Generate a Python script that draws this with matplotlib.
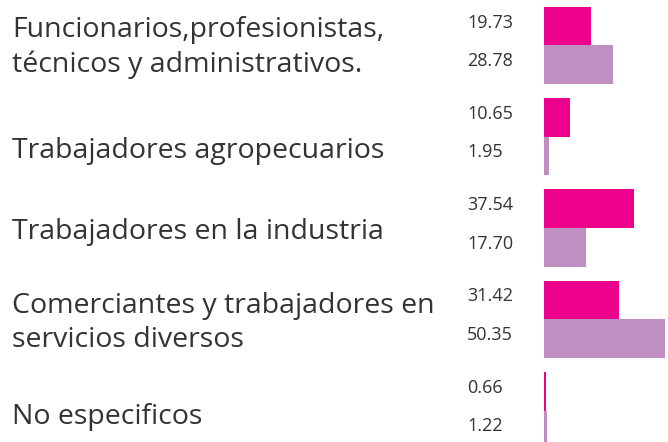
import numpy as np
import matplotlib.pyplot as plt
from matplotlib.transforms import blended_transform_factory

categories = [
    "Funcionarios,profesionistas,\ntécnicos y administrativos.",
    "Trabajadores agropecuarios",
    "Trabajadores en la industria",
    "Comerciantes y trabajadores en\nservicios diversos",
    "No especificos",
]
serie_a = [19.73, 10.65, 37.54, 31.42, 0.66]
serie_b = [28.78, 1.95, 17.70, 50.35, 1.22]

rosa = "#EC008C"
lila = "#C08FC2"
gris = "#333333"

plt.rcParams['font.family'] = ['Open Sans', 'DejaVu Sans']

fig = plt.figure(figsize=(6.68, 4.42), dpi=100)
ax = fig.add_axes([544 / 668, 0, 124 / 668, 1])

y = np.arange(len(categories))
h = 0.422
ax.barh(y - h / 2, serie_a, height=h, color=rosa)
ax.barh(y + h / 2, serie_b, height=h, color=lila)

ax.set_xlim(0, 51.7)
ax.set_ylim(4.345, -0.4986)
ax.axis("off")

tr = blended_transform_factory(fig.transFigure, ax.transData)
label_dy = [0.02, 0.16, 0.04, 0.04, 0.07]
for i, cat in enumerate(categories):
    ax.text(12 / 668, y[i] + label_dy[i], cat, transform=tr, ha="left",
            va="center", fontsize=20.5, color=gris, linespacing=1.3,
            clip_on=False)
    ax.text(467 / 668, y[i] - h / 2 + 0.015, f"{serie_a[i]:.2f}", transform=tr,
            ha="left", va="baseline", fontsize=13, color=gris, clip_on=False)
    ax.text(467 / 668, y[i] + h / 2 + 0.015, f"{serie_b[i]:.2f}", transform=tr,
            ha="left", va="baseline", fontsize=13, color=gris, clip_on=False)

fig.savefig("out.png", dpi=100)
